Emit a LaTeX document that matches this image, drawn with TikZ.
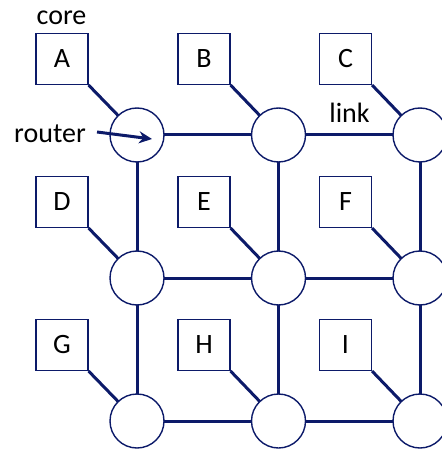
\documentclass[tikz,border=0pt]{standalone}
\usepackage{fontspec}
\setmainfont{Carlito}
\usetikzlibrary{arrows.meta}
\definecolor{navy}{RGB}{12,26,105}
\begin{document}
\begin{tikzpicture}[x=1bp,y=-1bp,
  every node/.style={font=\fontsize{28bp}{33bp}\selectfont},
  corebox/.style={draw=navy,line width=1.2bp,fill=white,minimum width=52bp,minimum height=51bp,inner sep=0pt},
  routernode/.style={draw=navy,line width=1.4bp,fill=white,circle,minimum size=54bp,inner sep=0pt},
  linkline/.style={draw=navy,line width=3bp},
  lbl/.style={inner sep=0pt,anchor=base}]
\useasboundingbox (0,0) rectangle (442,451);
% routers
\foreach \c/\x in {1/137,2/278.5,3/420}{
  \foreach \r/\y in {1/135,2/278,3/421}{
    \coordinate (p\r\c) at (\x,\y);
  }
}
% links
\draw[linkline] (p11) -- (p12) -- (p13);
\draw[linkline] (p21) -- (p22) -- (p23);
\draw[linkline] (p31) -- (p32) -- (p33);
\draw[linkline] (p11) -- (p21) -- (p31);
\draw[linkline] (p12) -- (p22) -- (p32);
\draw[linkline] (p13) -- (p23) -- (p33);
% boxes
\node[corebox] (A) at (62,59) {A};
\node[corebox] (B) at (204,59) {B};
\node[corebox] (C) at (345.5,59) {C};
\node[corebox] (D) at (62,202) {D};
\node[corebox] (E) at (204,202) {E};
\node[corebox] (F) at (345.5,202) {F};
\node[corebox] (G) at (62,345) {G};
\node[corebox] (H) at (204,345) {H};
\node[corebox] (I) at (345.5,345) {I};
% core-router links
\foreach \b/\r in {A/p11,B/p12,C/p13,D/p21,E/p22,F/p23,G/p31,H/p32,I/p33}{
  \draw[linkline] (\b.south east) -- (\r);
}
% router circles
\foreach \r in {11,12,13,21,22,23,31,32,33}{
  \node[routernode] (r\r) at (p\r) {};
}
% labels
\node[lbl] (corelbl) at (61.5,25) {core};
\node[lbl,anchor=base east] (routerlbl) at (86,143) {router};
\node[lbl] (linklbl) at (349.5,123) {link};
\coordinate (arrs) at (97,132);
\coordinate (arre) at (152,139);
\draw[navy,line width=3bp,-{Stealth[length=13bp,width=12bp]}] (arrs) -- (arre);
\end{tikzpicture}
\end{document}
